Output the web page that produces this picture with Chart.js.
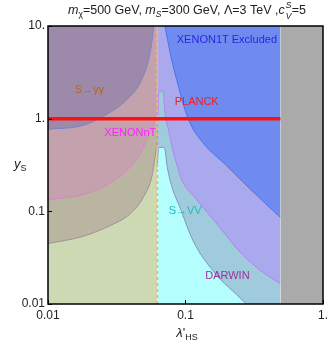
<!DOCTYPE html>
<html>
<head>
<meta charset="utf-8">
<script src="https://cdn.jsdelivr.net/npm/chart.js@4.4.1/dist/chart.umd.min.js"></script>
<style>
  body { margin: 0; background: #fff; overflow: hidden; }
  #wrap { position: relative; width: 332px; height: 344px; font-family: "Liberation Sans", Arial, sans-serif; color: #222; }
  #plot { position: absolute; left: 0; top: 0; }
  .title { position: absolute; top: 3px; left: 187px; transform: translateX(-50%); white-space: nowrap; font-size: 12.5px; line-height: 14px; }
  .title sub { font-size: 8.5px; vertical-align: -3px; line-height: 0; }
  .stack { position: relative; display: inline-block; width: 7px; height: 10px; font-size: 8.5px; font-style: italic; }
  .stack .up { position: absolute; left: 1px; top: -6px; }
  .stack .dn { position: absolute; left: 1px; top: 5px; }
  .xlab { position: absolute; top: 325px; left: 187px; transform: translateX(-50%); white-space: nowrap; font-size: 13px; }
  .xlab sub { font-size: 9px; vertical-align: -3px; line-height: 0; }
  .ylab { position: absolute; top: 156px; left: 14px; white-space: nowrap; font-size: 13px; }
  .ylab sub { font-size: 9px; vertical-align: -3px; line-height: 0; }
</style>
</head>
<body>
<div id="wrap">
  <canvas id="plot" width="332" height="344"></canvas>
  <div class="title"><i>m</i><sub>χ</sub>=500 GeV, <i>m</i><sub><i>S</i></sub>=300 GeV, Λ=3 TeV ,<i>c</i><span class="stack"><span class="up">S</span><span class="dn">V</span></span>=5</div>
  <div class="ylab"><i>y</i><sub>S</sub></div>
  <div class="xlab"><i>λ</i>'<sub>HS</sub></div>
</div>
<script>
// ---- data (x = lambda'_HS, y = y_S) ----
const xenon1tLeftX = [0.01, 0.0174, 0.0256, 0.0377, 0.0469, 0.054, 0.0569, 0.0592, 0.0623];
const xenon1tLeftY = [0.77, 0.834, 1.07, 1.62, 2.45, 4.37, 6.6, 10, 10];
const xenonntLeftX = [0.01, 0.0174, 0.027, 0.0377, 0.0469, 0.0524, 0.0575, 0.0605, 0.0623];
const xenonntLeftY = [0.133, 0.15, 0.193, 0.28, 0.42, 0.6, 0.8, 1.0, 1.3];
const darwinLeftX = [0.01, 0.0174, 0.027, 0.0398, 0.0496, 0.0569, 0.0601, 0.0623];
const darwinLeftY = [0.045, 0.053, 0.068, 0.095, 0.144, 0.237, 0.39, 0.6];

const xenon1tRightX = [0.0709, 0.0773, 0.0861, 0.1045, 0.134, 0.195, 0.3, 0.49];
const xenon1tRightY = [10, 5.15, 2.66, 1, 0.55, 0.32, 0.17, 0.086];
const xenonntRightX = [0.0623, 0.0638, 0.065, 0.0685, 0.0694, 0.0709, 0.0751, 0.0806, 0.087, 0.0936, 0.12, 0.167, 0.26, 0.382, 0.49];
const xenonntRightY = [0.5, 1.9, 1.99, 1.99, 1.8, 1.16, 0.77, 0.468, 0.31, 0.22, 0.135, 0.075, 0.034, 0.021, 0.0166];
const darwinRightX = [0.0623, 0.0633, 0.0645, 0.069, 0.0714, 0.073, 0.0796, 0.091, 0.1136, 0.158, 0.267, 0.275, 0.49];
const darwinRightY = [0.3, 0.45, 0.49, 0.49, 0.44, 0.33, 0.185, 0.111, 0.048, 0.0229, 0.0105, 0.01, 0.01];

const resonanceX = 0.0623;   // dashed line, S->gamma gamma / S->VV split
const greyStartX = 0.49;     // grey band on the right
const planckY = 1;

const xRange = [0.01, 1];
const yRange = [0.01, 10];
const xTicks = [0.01, 0.1, 1];
const xTickLabels = ['0.01', '0.1', '1.'];
const yTicks = [0.01, 0.1, 1, 10];
const yTickLabels = ['0.01', '0.1', '1.', '10.'];

const pts = (xs, ys) => xs.map((x, i) => ({ x, y: ys[i] }));

function area(xs, ys, fillTo, bg, line, order) {
  return {
    data: pts(xs, ys), fill: fillTo, backgroundColor: bg,
    borderColor: line || 'transparent', borderWidth: line ? 1 : 0,
    pointRadius: 0, cubicInterpolationMode: 'monotone', order
  };
}

// frame, inward ticks and region labels
const framePlugin = {
  id: 'frame',
  afterDatasetsDraw(chart, args, opts) {
    const { ctx, chartArea: a, scales: { x, y } } = chart;
    ctx.save();
    ctx.font = '11px "Liberation Sans", Arial, sans-serif';
    ctx.textAlign = 'center';
    ctx.textBaseline = 'middle';
    opts.labels.forEach(l => {
      ctx.fillStyle = l.color;
      ctx.fillText(l.text, x.getPixelForValue(l.x), y.getPixelForValue(l.y));
    });
    ctx.strokeStyle = '#000';
    ctx.lineWidth = 1;
    ctx.beginPath();
    xTicks.forEach(v => {
      const px = Math.round(x.getPixelForValue(v)) + 0.5;
      ctx.moveTo(px, a.bottom); ctx.lineTo(px, a.bottom - 4);
    });
    yTicks.forEach(v => {
      const py = Math.round(y.getPixelForValue(v)) + 0.5;
      ctx.moveTo(a.left, py); ctx.lineTo(a.left + 4, py);
    });
    ctx.stroke();
    ctx.lineWidth = 1.5;
    ctx.strokeRect(a.left, a.top, a.right - a.left, a.bottom - a.top);
    ctx.restore();
  }
};

new Chart(document.getElementById('plot'), {
  type: 'line',
  data: {
    datasets: [
      area([xRange[0], resonanceX], [yRange[1], yRange[1]], 'start', '#ccd9b3', null, 20),
      area([resonanceX, greyStartX], [yRange[1], yRange[1]], 'start', '#b4fefe', null, 20),
      area(darwinLeftX, darwinLeftY, 'end', '#bab5a0', '#a88c9c', 18),
      area(darwinRightX, darwinRightY, 'end', '#9fcbdd', '#8494c0', 18),
      area(xenonntLeftX, xenonntLeftY, 'end', '#c3a2ad', '#e27fd0', 16),
      area(xenonntRightX, xenonntRightY, 'end', '#aaa9ee', '#b482f2', 16),
      area(xenon1tLeftX, xenon1tLeftY, 'end', '#9d8aaa', '#7c83c9', 14),
      area(xenon1tRightX, xenon1tRightY, 'end', '#6f8bef', '#4a72f0', 14),
      area([greyStartX, xRange[1]], [yRange[1], yRange[1]], 'start', '#aaaaaa', null, 12),
      {
        data: pts([resonanceX, resonanceX], [yRange[0], yRange[1]]),
        borderColor: '#f4b860', borderWidth: 2, borderDash: [3, 3],
        pointRadius: 0, fill: false, order: 10
      },
      {
        data: pts([xRange[0], greyStartX], [planckY, planckY]),
        borderColor: '#ff1010', borderWidth: 3.5,
        pointRadius: 0, fill: false, order: 8
      }
    ]
  },
  options: {
    responsive: false,
    animation: false,
    devicePixelRatio: 1,
    layout: { padding: { top: 26, right: 6, left: 0, bottom: 0 } },
    plugins: {
      legend: { display: false },
      tooltip: { enabled: false },
      frame: {
        labels: [
          { text: 'XENON1T Excluded', x: 0.2, y: 7.06, color: '#2626e6' },
          { text: 'PLANCK', x: 0.1206, y: 1.525, color: '#ee2020' },
          { text: 'S\u2192\u03b3\u03b3', x: 0.02, y: 2.04, color: '#b8651a' },
          { text: 'XENONnT', x: 0.0397, y: 0.706, color: '#ff22ff' },
          { text: 'S\u2192VV', x: 0.0995, y: 0.1, color: '#22bbbb' },
          { text: 'DARWIN', x: 0.2017, y: 0.02, color: '#993399' }
        ]
      }
    },
    scales: {
      x: {
        type: 'logarithmic', min: xRange[0], max: xRange[1],
        afterBuildTicks: s => { s.ticks = xTicks.map(v => ({ value: v })); },
        afterFit: s => { s.height = 40; },
        grid: { display: false, drawTicks: false },
        border: { display: false },
        ticks: {
          padding: 4, color: '#222', maxRotation: 0, autoSkip: false,
          font: { family: '"Liberation Sans", Arial, sans-serif', size: 12 },
          callback: (v, i) => xTickLabels[i]
        }
      },
      y: {
        type: 'logarithmic', min: yRange[0], max: yRange[1],
        afterBuildTicks: s => { s.ticks = yTicks.map(v => ({ value: v })); },
        afterFit: s => { s.width = 48; },
        grid: { display: false, drawTicks: false },
        border: { display: false },
        ticks: {
          padding: 3, color: '#222', autoSkip: false,
          font: { family: '"Liberation Sans", Arial, sans-serif', size: 12 },
          callback: (v, i) => yTickLabels[i]
        }
      }
    }
  },
  plugins: [framePlugin]
});
</script>
</body>
</html>
